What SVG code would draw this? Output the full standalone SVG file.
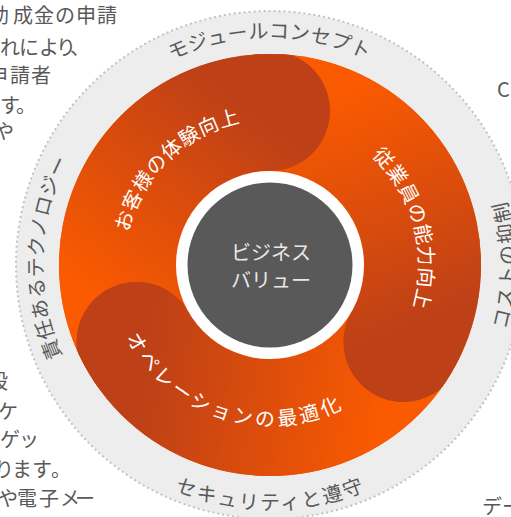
<svg xmlns="http://www.w3.org/2000/svg" width="511" height="517" viewBox="0 0 511 517">
<style>
text{font-family:"Noto Sans CJK JP","Noto Sans",sans-serif;}
.side{font-size:20px;fill:#595959;}
.ring-label{font-size:20px;fill:#595959;letter-spacing:1.2px;}
.band-label{font-size:20px;fill:#ffffff;letter-spacing:2px;}
.center-label{font-size:20px;fill:#e8e8e8;}
</style>
<defs>
<linearGradient id="bandGrad" gradientUnits="userSpaceOnUse" x1="100" y1="300" x2="250" y2="110">
<stop offset="0" stop-color="#FA5A00"/>
<stop offset="1" stop-color="#BD4017"/>
</linearGradient>
<clipPath id="diskClip"><circle cx="270" cy="265" r="211"/></clipPath>
<path id="band" d="M84.67 372 A214 214 0 0 1 270 51 A60 60 0 0 1 270 171 A94 94 0 0 0 188.59 312 Z"/>
<circle id="cap" cx="270" cy="111" r="60"/>
<path id="pTop" d="M48.23 184.28 A236 236 0 0 1 491.77 184.28"/>
<path id="pLeft" d="M181.59 483.82 A236 236 0 0 1 197.07 40.55"/>
<path id="pRight" d="M350.72 486.77 A236 236 0 0 0 350.72 43.23"/>
<path id="pBottom" d="M48.23 345.72 A236 236 0 0 0 491.77 345.72"/>
<path id="pCustomer" d="M129.32 327.63 A154 154 0 0 1 337.51 126.58"/>
<path id="pEmployee" d="M283.78 107.6 A158 158 0 0 1 360.63 394.43"/>
<path id="pOperations" d="M118.09 270.3 A152 152 0 0 0 389.78 358.59"/>
</defs>

<g id="side-text-left" class="side">
<text x="-11 13 34 55 76 97" y="23">助成金の申請</text>
<text x="0 19 39 56 70" y="55">れにより、</text>
<text x="-12 10 31" y="83">申請者</text>
<text x="0 16" y="113">す。</text>
<text x="-6" y="139">や</text>
<text x="-12" y="389">段</text>
<text x="-2" y="419">ケ</text>
<text x="0 19" y="447">ゲッ</text>
<text x="-6 12 32 51" y="477">ります。</text>
<text x="-2 17 39 60 75" y="506">や電子メー</text>
</g>
<g id="side-text-right" class="side">
<text x="497" y="97">C</text>
<text x="482 502" y="514">デー</text>
</g>

<g id="outer-ring">
<circle cx="270" cy="265" r="254" fill="#EDEDED" stroke="#C2C2C2" stroke-width="2" stroke-dasharray="2 3"/>
</g>

<g id="disk">
<circle cx="270" cy="265" r="211" fill="#FA5A00"/>
</g>

<g id="bands" clip-path="url(#diskClip)">
<g id="band-customer"><use href="#band" fill="url(#bandGrad)"/></g>
<g id="band-employee"><use href="#band" fill="url(#bandGrad)" transform="rotate(120 270 265)"/></g>
<g id="band-operations"><use href="#band" fill="url(#bandGrad)" transform="rotate(240 270 265)"/></g>
<use href="#cap" fill="url(#bandGrad)"/>
<use href="#cap" fill="url(#bandGrad)" transform="rotate(120 270 265)"/>
<use href="#cap" fill="url(#bandGrad)" transform="rotate(240 270 265)"/>
</g>

<g id="center">
<circle cx="270" cy="265" r="94" fill="#FFFFFF"/>
<circle cx="270" cy="265" r="82.5" fill="#595959"/>
<text class="center-label" x="271" y="260" text-anchor="middle">ビジネス</text>
<text class="center-label" x="271" y="288" text-anchor="middle">バリュー</text>
</g>

<g id="band-labels" class="band-label">
<text dominant-baseline="central"><textPath href="#pCustomer" startOffset="50%" text-anchor="middle">お客様の体験向上</textPath></text>
<text dominant-baseline="central"><textPath href="#pEmployee" startOffset="50%" text-anchor="middle">従業員の能力向上</textPath></text>
<text dominant-baseline="central"><textPath href="#pOperations" startOffset="50%" text-anchor="middle">オペレーションの最適化</textPath></text>
</g>

<g id="ring-labels" class="ring-label">
<text dominant-baseline="central"><textPath href="#pTop" startOffset="50%" text-anchor="middle">モジュールコンセプト</textPath></text>
<text dominant-baseline="central"><textPath href="#pLeft" startOffset="50%" text-anchor="middle">責任あるテクノロジー</textPath></text>
<text dominant-baseline="central"><textPath href="#pRight" startOffset="50%" text-anchor="middle">コストの抑制</textPath></text>
<text dominant-baseline="central"><textPath href="#pBottom" startOffset="50%" text-anchor="middle">セキュリティと遵守</textPath></text>
</g>
</svg>
